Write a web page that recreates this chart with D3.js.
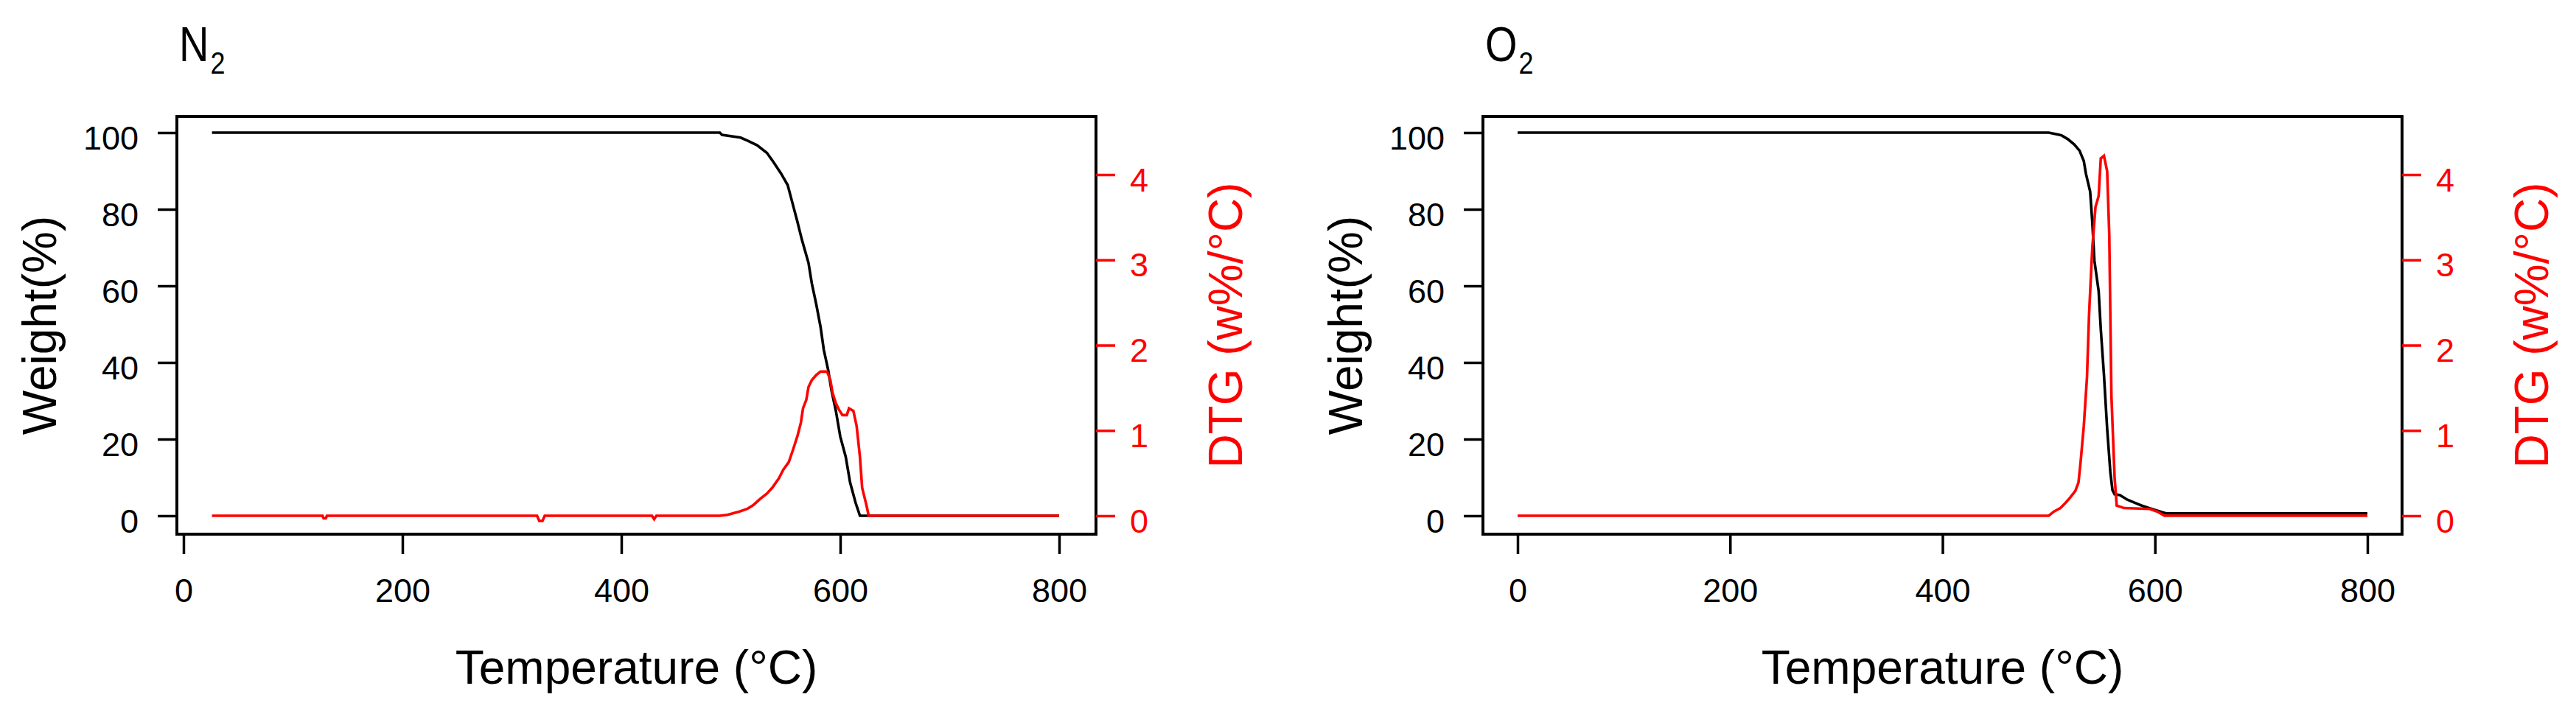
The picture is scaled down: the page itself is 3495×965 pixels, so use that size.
<!DOCTYPE html>
<html lang="en">
<head>
  <meta charset="UTF-8">
  <title>TGA / DTG in N2 and O2</title>
  <script src="https://d3js.org/d3.v7.min.js"></script>
  <style>
    body { margin: 0; padding: 0; background: #fff; }
    svg { display: block; font-family: "Liberation Sans", Arial, sans-serif; }
  </style>
</head>
<body>
  <div id="vis"></div>
  <script>
    // ticks
    const tempTicks = [0, 200, 400, 600, 800];
    const weightTicks = [0, 20, 40, 60, 80, 100];
    const dtgTicks = [0, 1, 2, 3, 4];

    // N2 run: weight (%) and DTG (w%/°C) vs temperature (°C)
    const n2WeightT = [26, 490, 492, 509, 516, 524, 533, 539, 546, 552, 556, 561, 565, 571, 574, 578, 582, 585, 589, 592, 596, 600, 605, 609, 614, 618, 800];
    const n2Weight  = [100, 100, 99.4, 98.7, 97.8, 96.7, 94.7, 92.3, 89.3, 86.3, 82, 76.6, 72, 66, 60.7, 55.3, 49.3, 43.3, 38, 32.7, 27.4, 20.7, 15.4, 8.7, 3.4, 0, 0];
    const n2DtgT = [26, 127, 128, 130, 131, 323, 325, 328, 330, 428, 430, 432, 490, 497, 508, 515, 521, 527, 533, 538, 544, 548, 553, 557, 561, 564, 566, 569, 571, 574, 578, 582, 588, 591, 593, 596, 599, 602, 606, 608, 612, 615, 618, 620, 624, 626, 800];
    const n2Dtg  = [0, 0, -0.03, -0.03, 0, 0, -0.06, -0.06, 0, 0, -0.04, 0, 0, 0.01, 0.05, 0.08, 0.13, 0.2, 0.26, 0.33, 0.44, 0.54, 0.63, 0.78, 0.94, 1.09, 1.26, 1.36, 1.51, 1.59, 1.65, 1.69, 1.69, 1.59, 1.44, 1.32, 1.24, 1.18, 1.18, 1.26, 1.23, 1.05, 0.69, 0.33, 0.12, 0, 0];

    // O2 run
    const o2WeightT = [0, 500, 512, 518, 524, 529, 533, 535, 539, 541, 543, 547, 549, 552, 555, 558, 560, 562, 567, 574, 581, 588, 598, 607, 611, 800];
    const o2Weight  = [100, 100, 99.3, 98.3, 96.9, 95.3, 92.6, 89.3, 84.6, 76.6, 66.6, 58.6, 48.7, 36.7, 22.7, 11.4, 6.7, 5.6, 5.4, 4.2, 3.4, 2.6, 1.7, 0.9, 0.6, 0.6];
    const o2DtgT = [0, 500, 505, 511, 515, 520, 525, 528, 530, 533, 536, 538, 541, 544, 547, 549, 552, 555, 557, 559, 562, 564, 571, 595, 602, 609, 800];
    const o2Dtg  = [0, 0, 0.05, 0.09, 0.14, 0.21, 0.29, 0.39, 0.63, 1.05, 1.62, 2.37, 3.14, 3.62, 3.75, 4.19, 4.22, 4.04, 3.29, 1.41, 0.45, 0.12, 0.09, 0.08, 0.05, 0, 0];

    const width = 3495, height = 965;
    const svg = d3.select("#vis").append("svg")
      .attr("width", width)
      .attr("height", height);

    svg.append("rect").attr("width", width).attr("height", height).attr("fill", "#fff");

    const panels = [
      { gas: "N", ox: 0, xRange: [249, 1437],
        wT: n2WeightT, w: n2Weight, dT: n2DtgT, d: n2Dtg },
      { gas: "O", ox: 1772, xRange: [2059, 3212],
        wT: o2WeightT, w: o2Weight, dT: o2DtgT, d: o2Dtg }
    ];

    const boxTop = 158, boxBottom = 725;
    const yW = d3.scaleLinear().domain([0, 100]).range([700, 180]);
    const yD = d3.scaleLinear().domain([0, 4]).range([700, 237]);
    const fmt = d3.format("d");

    panels.forEach(p => {
      const left = 240 + p.ox, right = 1487 + p.ox;
      const x = d3.scaleLinear().domain([0, 800]).range(p.xRange);
      const g = svg.append("g");

      // title with subscript
      const title = g.append("text")
        .attr("transform", `translate(${243 + p.ox},83) scale(1,1.2)`)
        .attr("font-size", 56)
        .attr("fill", "#000");
      title.append("tspan").text(p.gas);
      title.append("tspan").attr("font-size", 36).attr("dx", 2).attr("dy", 14).text("2");

      // lines
      const wData = p.wT.map((t, i) => [t, p.w[i]]);
      const dData = p.dT.map((t, i) => [t, p.d[i]]);

      g.append("path")
        .datum(wData)
        .attr("fill", "none")
        .attr("stroke", "#000")
        .attr("stroke-width", 3.6)
        .attr("d", d3.line().x(d => x(d[0])).y(d => yW(d[1])));

      g.append("path")
        .datum(dData)
        .attr("fill", "none")
        .attr("stroke", "#ff0000")
        .attr("stroke-width", 3.6)
        .attr("d", d3.line().x(d => x(d[0])).y(d => yD(d[1])));

      // box
      g.append("rect")
        .attr("x", left).attr("y", boxTop)
        .attr("width", right - left).attr("height", boxBottom - boxTop)
        .attr("fill", "none").attr("stroke", "#000").attr("stroke-width", 4);

      // x axis
      const xa = g.append("g")
        .attr("transform", `translate(0,${boxBottom})`)
        .call(d3.axisBottom(x).tickValues(tempTicks).tickSize(27).tickFormat(fmt));
      xa.select(".domain").remove();
      xa.selectAll("line").attr("stroke", "#000").attr("stroke-width", 3.5);
      xa.selectAll("text").attr("font-size", 45).attr("fill", "#000")
        .attr("font-family", "Liberation Sans, Arial, sans-serif")
        .attr("y", 60).attr("dy", "0.71em");

      // left weight axis
      const ya = g.append("g")
        .attr("transform", `translate(${left},0)`)
        .call(d3.axisLeft(yW).tickValues(weightTicks).tickSize(26).tickPadding(26).tickFormat(fmt));
      ya.select(".domain").remove();
      ya.selectAll("line").attr("stroke", "#000").attr("stroke-width", 3.5);
      ya.selectAll("text").attr("font-size", 45).attr("fill", "#000")
        .attr("font-family", "Liberation Sans, Arial, sans-serif")
        .attr("dy", "0.49em");

      // right DTG axis
      const da = g.append("g")
        .attr("transform", `translate(${right},0)`)
        .call(d3.axisRight(yD).tickValues(dtgTicks).tickSize(26).tickPadding(20).tickFormat(fmt));
      da.select(".domain").remove();
      da.selectAll("line").attr("stroke", "#ff0000").attr("stroke-width", 3.5);
      da.selectAll("text").attr("font-size", 45).attr("fill", "#ff0000")
        .attr("font-family", "Liberation Sans, Arial, sans-serif")
        .attr("dy", "0.49em");

      // axis titles
      const midY = (boxTop + boxBottom) / 2;
      g.append("text")
        .attr("x", (left + right) / 2).attr("y", 928)
        .attr("text-anchor", "middle")
        .attr("font-size", 64)
        .attr("fill", "#000")
        .text("Temperature (°C)");

      g.append("text")
        .attr("transform", `translate(${76 + p.ox},${midY}) rotate(-90)`)
        .attr("text-anchor", "middle")
        .attr("font-size", 64)
        .attr("fill", "#000")
        .text("Weight(%)");

      g.append("text")
        .attr("transform", `translate(${1685 + p.ox},${midY}) rotate(-90)`)
        .attr("text-anchor", "middle")
        .attr("font-size", 64)
        .attr("fill", "#ff0000")
        .text("DTG (w%/°C)");
    });
  </script>
</body>
</html>
